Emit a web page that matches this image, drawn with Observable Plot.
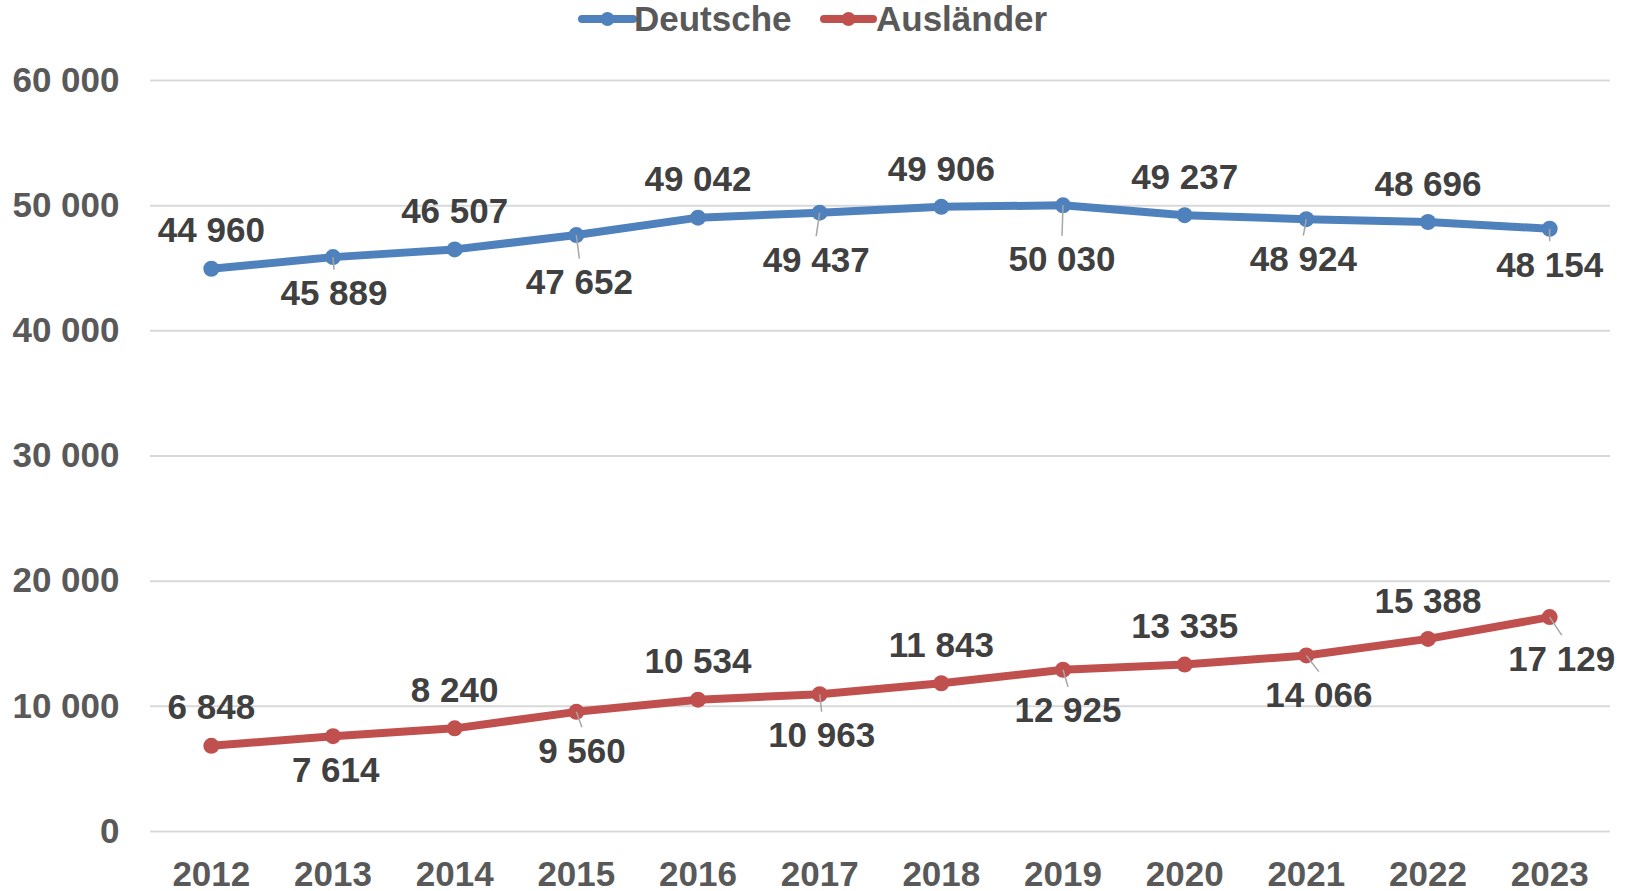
<!DOCTYPE html>
<html><head><meta charset="utf-8">
<script src="https://cdn.jsdelivr.net/npm/d3@7"></script>
<script src="https://cdn.jsdelivr.net/npm/@observablehq/plot@0.6"></script>
<style>
body{margin:0;background:#fff;font-family:"Liberation Sans",Arial,sans-serif}
#legend{height:40px;width:1627px;}
#legend svg, #chart svg{display:block}
</style>
</head><body><div id="legend"></div><div id="chart"></div>
<script>
// ---- data ----
const years = [2012, 2013, 2014, 2015, 2016, 2017, 2018, 2019, 2020, 2021, 2022, 2023];
const deutsche = [44960, 45889, 46507, 47652, 49042, 49437, 49906, 50030, 49237, 48924, 48696, 48154];
const auslaender = [6848, 7614, 8240, 9560, 10534, 10963, 11843, 12925, 13335, 14066, 15388, 17129];
const seriesNames = ["Deutsche", "Ausländer"];
const seriesColors = ["#4F81BD", "#C0504D"];
const yTicks = [0, 10000, 20000, 30000, 40000, 50000, 60000];

// ---- label placement (styling, pixels) ----
const deLabelDx = [0, 1, 0, 3, 0, -3.5, 0, -1, 0, -3, 0, 0];
const deLabelDy = [-37.5, 37, -37.5, 48, -37.5, 48, -37.5, 55, -37.5, 41, -37.5, 37];
const deLeader  = [0, 1, 0, 1, 0, 1, 0, 1, 0, 1, 0, 1];
const auLabelDx = [0, 2.7, 0, 5.6, 0, 2, 0, 5, 0, 12.5, 0, 12];
const auLabelDy = [-37.5, 34.5, -37.5, 40, -37.5, 42, -37.5, 41.5, -37.5, 40.7, -37.5, 42.5];
const auLeader  = [0, 0, 0, 1, 0, 1, 0, 1, 0, 1, 0, 1];

const W = 1627, H = 851, mT = 40, mB = 60, mL = 150, mR = 17;
const xDomain = [2011.5, 2023.5], yDomain = [0, 60000];
const pxPerYear = (W - mL - mR) / (xDomain[1] - xDomain[0]);
const unitsPerPx = (yDomain[1] - yDomain[0]) / (H - mT - mB);
const fmt = v => d3.format(",")(v).replace(/,/g, " ");
const FONT = "'Liberation Sans', Arial, sans-serif";
const FS = 35;

function rows(vals, dxs, dys, leads, s) {
  return years.map((yr, i) => ({
    year: yr, value: vals[i], series: s,
    lx: yr + dxs[i] / pxPerYear,
    ly: vals[i] - dys[i] * unitsPerPx,
    leader: leads[i],
    ex: yr + dxs[i] / pxPerYear,
    ey: vals[i] - (dys[i] - 24.5) * unitsPerPx
  }));
}
const de = rows(deutsche, deLabelDx, deLabelDy, deLeader, seriesNames[0]);
const au = rows(auslaender, auLabelDx, auLabelDy, auLeader, seriesNames[1]);
const all = de.concat(au);

// ---- legend ----
const legendItems = [
  {name: seriesNames[0], color: seriesColors[0], x1: 582, x2: 633, tx: 634},
  {name: seriesNames[1], color: seriesColors[1], x1: 824, x2: 873, tx: 876}
];
const ns = "http://www.w3.org/2000/svg";
const lsvg = document.createElementNS(ns, "svg");
lsvg.setAttribute("width", W); lsvg.setAttribute("height", 40);
for (const it of legendItems) {
  const l = document.createElementNS(ns, "line");
  l.setAttribute("x1", it.x1); l.setAttribute("x2", it.x2);
  l.setAttribute("y1", 19); l.setAttribute("y2", 19);
  l.setAttribute("stroke", it.color); l.setAttribute("stroke-width", 8);
  l.setAttribute("stroke-linecap", "round");
  lsvg.appendChild(l);
  const c = document.createElementNS(ns, "circle");
  c.setAttribute("cx", (it.x1 + it.x2) / 2); c.setAttribute("cy", 19); c.setAttribute("r", 7);
  c.setAttribute("fill", it.color);
  lsvg.appendChild(c);
  const t = document.createElementNS(ns, "text");
  t.setAttribute("x", it.tx); t.setAttribute("y", 31);
  t.setAttribute("font-family", FONT); t.setAttribute("font-size", 35);
  t.setAttribute("font-weight", "bold"); t.setAttribute("fill", "#595959");
  t.textContent = it.name;
  lsvg.appendChild(t);
}
document.getElementById("legend").appendChild(lsvg);

// ---- chart ----
const chart = Plot.plot({
  width: W, height: H,
  marginTop: mT, marginBottom: mB, marginLeft: mL, marginRight: mR,
  style: {fontFamily: FONT, background: "#fff", color: "#595959", overflow: "visible"},
  x: {type: "linear", domain: xDomain, label: null},
  y: {domain: yDomain, label: null},
  marks: [
    Plot.gridY(yTicks, {stroke: "#d9d9d9", strokeOpacity: 1, strokeWidth: 2}),
    Plot.axisX({ticks: years, tickFormat: d => String(d), tickSize: 0, tickPadding: 30,
      fontSize: FS, fontWeight: "bold", fill: "#595959", label: null}),
    Plot.axisY({ticks: yTicks, tickFormat: fmt, tickSize: 0, tickPadding: 31,
      fontSize: FS, fontWeight: "bold", fill: "#595959", label: null}),
    Plot.line(de, {x: "year", y: "value", stroke: seriesColors[0], strokeWidth: 8, strokeLinejoin: "round"}),
    Plot.line(au, {x: "year", y: "value", stroke: seriesColors[1], strokeWidth: 8, strokeLinejoin: "round"}),
    Plot.dot(de, {x: "year", y: "value", r: 8, fill: seriesColors[0]}),
    Plot.dot(au, {x: "year", y: "value", r: 8, fill: seriesColors[1]}),
    Plot.link(all.filter(d => d.leader), {x1: "year", y1: "value", x2: "ex", y2: "ey",
      stroke: "#a6a6a6", strokeWidth: 1.5}),
    Plot.text(all, {x: "lx", y: "ly", text: d => fmt(d.value), fontSize: FS, fontWeight: "bold",
      fill: "#404040", textAnchor: "middle", lineAnchor: "middle"})
  ]
});
document.getElementById("chart").appendChild(chart);
</script>
</body></html>
